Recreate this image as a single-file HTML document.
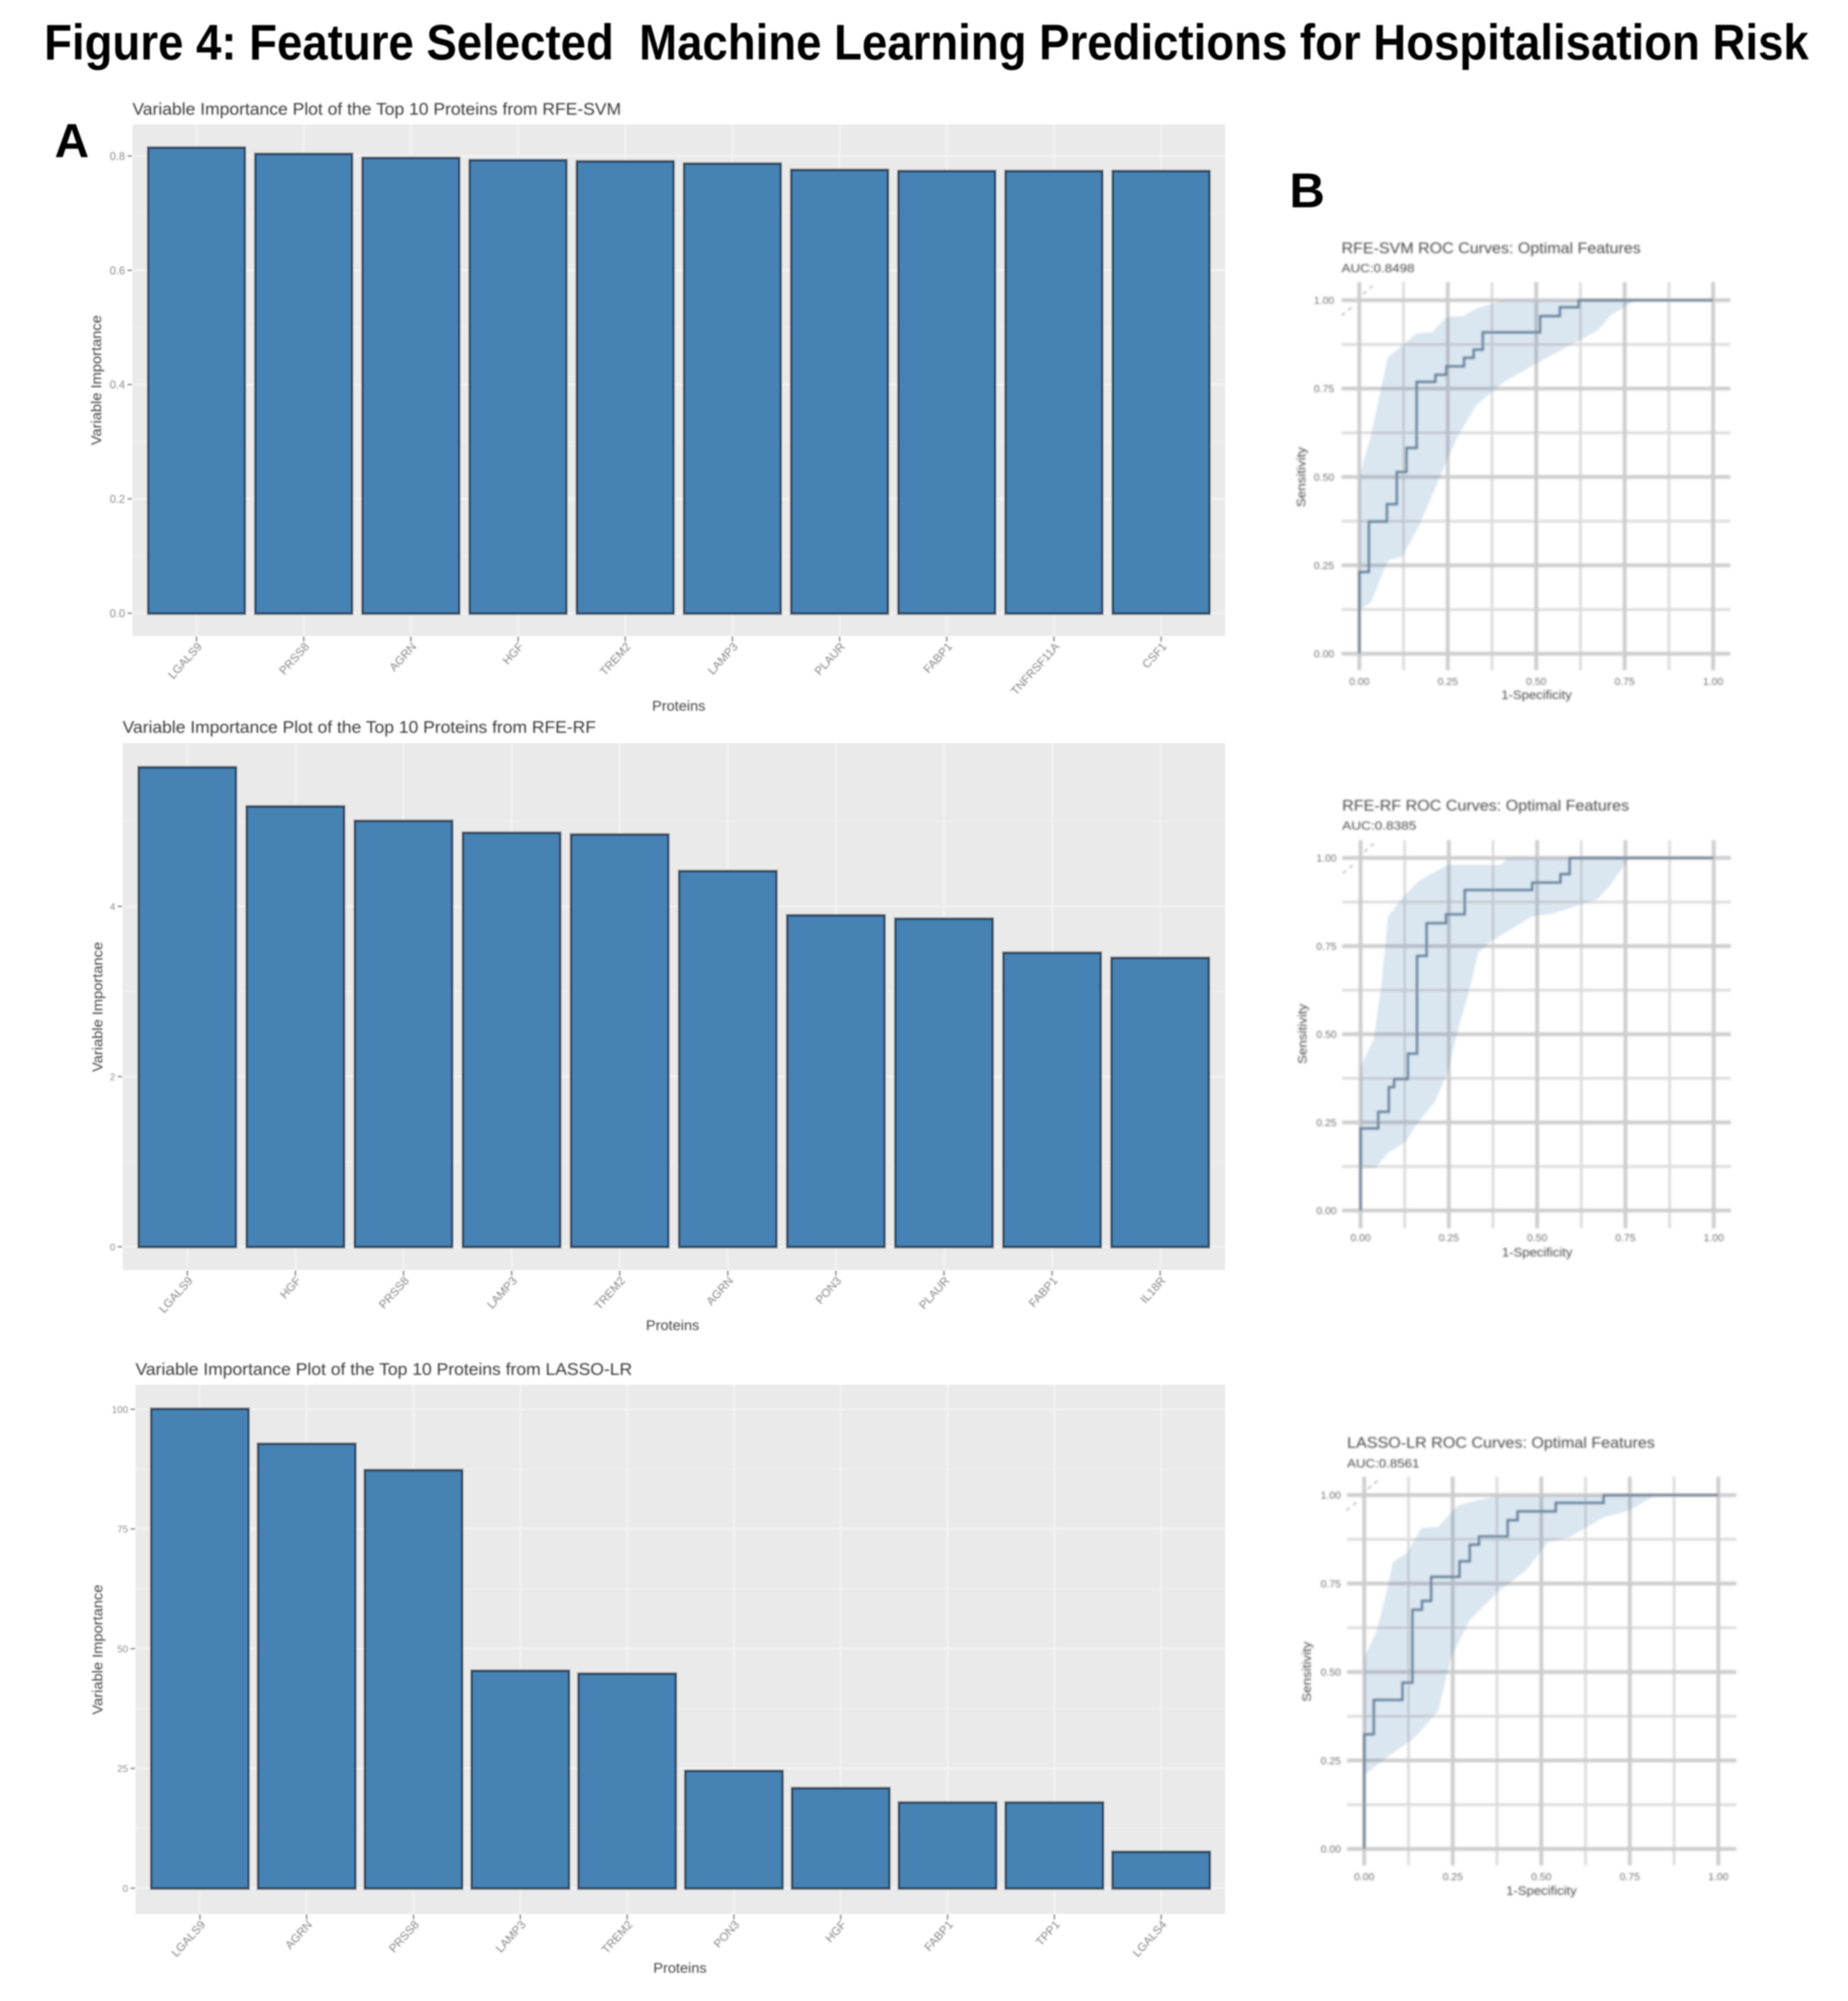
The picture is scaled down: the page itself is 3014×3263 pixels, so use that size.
<!DOCTYPE html>
<html lang="en">
<head>
<meta charset="utf-8">
<title>Figure 4: Feature Selected Machine Learning Predictions for Hospitalisation Risk</title>
<style>
html,body{margin:0;padding:0;background:#fff;}
svg{display:block;font-family:"Liberation Sans",sans-serif;}
</style>
</head>
<body>
<svg id="figure" xmlns="http://www.w3.org/2000/svg" width="3014" height="3263" viewBox="0 0 3014 3263">
  <defs>
    <filter id="blur-title" filterUnits="userSpaceOnUse" x="0" y="0" width="3014" height="3263"><feGaussianBlur stdDeviation="1.1"/></filter>
    <filter id="blur-bars" filterUnits="userSpaceOnUse" x="0" y="0" width="3014" height="3263"><feGaussianBlur stdDeviation="1"/></filter>
    <filter id="blur-text" filterUnits="userSpaceOnUse" x="0" y="0" width="3014" height="3263"><feGaussianBlur stdDeviation="1.2"/></filter>
    <filter id="blur-roc" filterUnits="userSpaceOnUse" x="0" y="0" width="3014" height="3263"><feGaussianBlur stdDeviation="1.8"/></filter>
    <filter id="blur-roc-text" filterUnits="userSpaceOnUse" x="0" y="0" width="3014" height="3263"><feGaussianBlur stdDeviation="1.6"/></filter>
  </defs>
  <rect x="0" y="0" width="3014" height="3263" fill="#ffffff"/>

  <g filter="url(#blur-title)">
    <text x="72" y="97" font-size="82" font-weight="700" fill="#000" textLength="2878" lengthAdjust="spacingAndGlyphs" xml:space="preserve" style="white-space:pre">Figure 4: Feature Selected  Machine Learning Predictions for Hospitalisation Risk</text>
    <text x="89" y="256" font-size="78" font-weight="700" fill="#000">A</text>
    <text x="2103" y="338" font-size="80" font-weight="700" fill="#000">B</text>
  </g>

  <g id="chart-a1"></g>
  <g id="chart-a2"></g>
  <g id="chart-a3"></g>
  <g id="chart-b1"></g>
  <g id="chart-b2"></g>
  <g id="chart-b3"></g>

  <g filter="url(#blur-text)">
    <text x="216" y="187" font-size="28" fill="#3a3a3a" textLength="797" lengthAdjust="spacingAndGlyphs">Variable Importance Plot of the Top 10 Proteins from RFE-SVM</text>
    <text x="200" y="1195" font-size="28" fill="#3a3a3a" textLength="772" lengthAdjust="spacingAndGlyphs">Variable Importance Plot of the Top 10 Proteins from RFE-RF</text>
    <text x="221" y="2242" font-size="28" fill="#3a3a3a" textLength="810" lengthAdjust="spacingAndGlyphs">Variable Importance Plot of the Top 10 Proteins from LASSO-LR</text>

    <text transform="translate(165 620) rotate(-90)" text-anchor="middle" font-size="23" fill="#444" textLength="212" lengthAdjust="spacingAndGlyphs">Variable Importance</text>
    <text transform="translate(167 1642) rotate(-90)" text-anchor="middle" font-size="23" fill="#444" textLength="212" lengthAdjust="spacingAndGlyphs">Variable Importance</text>
    <text transform="translate(167 2690) rotate(-90)" text-anchor="middle" font-size="23" fill="#444" textLength="212" lengthAdjust="spacingAndGlyphs">Variable Importance</text>

    <text x="1107" y="1159" text-anchor="middle" font-size="23" fill="#444" textLength="87" lengthAdjust="spacingAndGlyphs">Proteins</text>
    <text x="1097" y="2169" text-anchor="middle" font-size="23" fill="#444" textLength="87" lengthAdjust="spacingAndGlyphs">Proteins</text>
    <text x="1109" y="3217" text-anchor="middle" font-size="23" fill="#444" textLength="87" lengthAdjust="spacingAndGlyphs">Proteins</text>
  </g>

  <g filter="url(#blur-roc-text)">
    <text x="2188" y="413" font-size="25" fill="#4a4a4a" textLength="488" lengthAdjust="spacingAndGlyphs">RFE-SVM ROC Curves: Optimal Features</text>
    <text x="2188" y="444" font-size="19" fill="#4a4a4a" textLength="119" lengthAdjust="spacingAndGlyphs">AUC:0.8498</text>
    <text x="2506" y="1140" text-anchor="middle" font-size="20" fill="#4a4a4a" textLength="115" lengthAdjust="spacingAndGlyphs">1-Specificity</text>
    <text transform="translate(2129 778) rotate(-90)" text-anchor="middle" font-size="20" fill="#4a4a4a" textLength="98" lengthAdjust="spacingAndGlyphs">Sensitivity</text>

    <text x="2189" y="1322" font-size="25" fill="#4a4a4a" textLength="468" lengthAdjust="spacingAndGlyphs">RFE-RF ROC Curves: Optimal Features</text>
    <text x="2189" y="1353" font-size="19" fill="#4a4a4a" textLength="121" lengthAdjust="spacingAndGlyphs">AUC:0.8385</text>
    <text x="2507" y="2049" text-anchor="middle" font-size="20" fill="#4a4a4a" textLength="115" lengthAdjust="spacingAndGlyphs">1-Specificity</text>
    <text transform="translate(2131 1686) rotate(-90)" text-anchor="middle" font-size="20" fill="#4a4a4a" textLength="98" lengthAdjust="spacingAndGlyphs">Sensitivity</text>

    <text x="2197" y="2361" font-size="25" fill="#4a4a4a" textLength="502" lengthAdjust="spacingAndGlyphs">LASSO-LR ROC Curves: Optimal Features</text>
    <text x="2197" y="2393" font-size="19" fill="#4a4a4a" textLength="118" lengthAdjust="spacingAndGlyphs">AUC:0.8561</text>
    <text x="2514" y="3090" text-anchor="middle" font-size="20" fill="#4a4a4a" textLength="115" lengthAdjust="spacingAndGlyphs">1-Specificity</text>
    <text transform="translate(2138 2726) rotate(-90)" text-anchor="middle" font-size="20" fill="#4a4a4a" textLength="98" lengthAdjust="spacingAndGlyphs">Sensitivity</text>
  </g>
</svg>

<script>
/* ---------- Panel A: variable importance data ---------- */
const a1Categories = ["LGALS9","PRSS8","AGRN","HGF","TREM2","LAMP3","PLAUR","FABP1","TNFRSF11A","CSF1"];
const a1Values = [0.814,0.803,0.796,0.792,0.790,0.786,0.775,0.773,0.773,0.773];
const a1Ticks = [0,0.2,0.4,0.6,0.8];
const a1TickLabels = ["0.0","0.2","0.4","0.6","0.8"];

const a2Categories = ["LGALS9","HGF","PRSS8","LAMP3","TREM2","AGRN","PON3","PLAUR","FABP1","IL18R"];
const a2Values = [5.63,5.17,5.00,4.86,4.84,4.41,3.89,3.85,3.45,3.39];
const a2Ticks = [0,2,4];
const a2TickLabels = ["0","2","4"];

const a3Categories = ["LGALS9","AGRN","PRSS8","LAMP3","TREM2","PON3","HGF","FABP1","TPP1","LGALS4"];
const a3Values = [100,92.7,87.2,45.3,44.7,24.4,20.8,17.8,17.8,7.5];
const a3Ticks = [0,25,50,75,100];
const a3TickLabels = ["0","25","50","75","100"];

/* ---------- Panel B: ROC data ---------- */
const rocTicks = [0,0.25,0.5,0.75,1];
const rocMinorTicks = [0.125,0.375,0.625,0.875];
const rocTickLabels = ["0.00","0.25","0.50","0.75","1.00"];

const b1Fpr = [0,0.027,0.078,0.106,0.133,0.162,0.215,0.246,0.296,0.323,0.349,0.511,0.567,0.62,1];
const b1Tpr = [0.231,0.374,0.423,0.514,0.582,0.769,0.789,0.813,0.837,0.860,0.909,0.955,0.980,1,1];
const b1UpperFpr = [0,0.034,0.060,0.080,0.126,0.162,0.206,0.246,0.294,0.330,0.400,0.781,1];
const b1UpperTpr = [0.499,0.621,0.743,0.837,0.876,0.906,0.909,0.952,0.955,0.976,0.998,1,1];
const b1LowerFpr = [0,0.034,0.064,0.082,0.122,0.171,0.223,0.276,0.330,0.409,0.507,0.622,0.675,0.710,0.781,1];
const b1LowerTpr = [0.122,0.147,0.224,0.265,0.275,0.367,0.489,0.611,0.703,0.769,0.825,0.886,0.916,0.957,1,1];

const b2Fpr = [0,0.05,0.08,0.095,0.134,0.16,0.187,0.242,0.295,0.486,0.566,0.592,1];
const b2Tpr = [0.233,0.28,0.35,0.373,0.445,0.722,0.815,0.84,0.909,0.93,0.954,1,1];
const b2UpperFpr = [0,0.038,0.060,0.078,0.122,0.167,0.247,0.398,0.416,0.761,1];
const b2UpperTpr = [0.408,0.488,0.648,0.834,0.891,0.936,0.980,0.980,1,1,1];
const b2LowerFpr = [0,0.042,0.078,0.128,0.158,0.211,0.246,0.281,0.307,0.333,0.369,0.485,0.547,0.671,0.707,0.761,1];
const b2LowerTpr = [0.120,0.120,0.164,0.195,0.244,0.310,0.390,0.532,0.621,0.732,0.763,0.834,0.843,0.883,0.923,1,1];

const b3Fpr = [0,0.027,0.108,0.136,0.163,0.189,0.269,0.298,0.324,0.405,0.433,0.541,0.676,1];
const b3Tpr = [0.324,0.421,0.47,0.676,0.701,0.769,0.813,0.86,0.883,0.929,0.954,0.978,1,1];
const b3UpperFpr = [0,0.033,0.059,0.081,0.121,0.161,0.209,0.262,0.289,0.368,0.823,1];
const b3UpperTpr = [0.541,0.611,0.708,0.810,0.837,0.907,0.910,0.969,0.978,0.996,1,1];
const b3LowerFpr = [0,0.068,0.139,0.209,0.245,0.298,0.377,0.457,0.519,0.580,0.678,0.748,0.823,1];
const b3LowerTpr = [0.209,0.262,0.311,0.390,0.541,0.647,0.726,0.788,0.867,0.881,0.938,0.956,1,1];

const SVG_NS = "http://www.w3.org/2000/svg";
function mk(tag, props, parent) {
  const node = document.createElementNS(SVG_NS, tag);
  Object.keys(props).forEach(function (k) { node.setAttribute(k, props[k]); });
  parent.appendChild(node);
  return node;
}

function drawBarChart(host, categories, values, ticks, tickLabels, L) {
  const yScale = function (v) { return L.y0 - v * L.unit; };
  const xScale = function (i) { return L.c0 + i * L.pitch; };
  let el;

  const plot = mk("g", {filter: "url(#blur-bars)"}, host);
  
  

  el = mk("rect", {x: L.left, y: L.top, width: L.right - L.left, height: L.bottom - L.top, fill: "#eaeaea"}, plot);
  
  

  const step = ticks[1] - ticks[0];
  ticks.forEach(function (t) {
    const minorY = yScale(t + step / 2);
    if (minorY > L.top) {
      el = mk("line", {x1: L.left, x2: L.right, y1: minorY, y2: minorY, stroke: "#eeeeee", "stroke-width": 2}, plot);
      
      
    }
    el = mk("line", {x1: L.left, x2: L.right, y1: yScale(t), y2: yScale(t), stroke: "#f3f3f3", "stroke-width": 3}, plot);
    
    
  });
  categories.forEach(function (c, i) {
    el = mk("line", {x1: xScale(i), x2: xScale(i), y1: L.top, y2: L.bottom, stroke: "#f3f3f3", "stroke-width": 3}, plot);
    
    
  });

  values.forEach(function (v, i) {
    const bx = xScale(i) - L.barW / 2;
    const by = yScale(v);
    const bh = L.y0 - by;
    el = mk("rect", {x: bx - 2.5, y: by - 3, width: L.barW + 5, height: bh + 6, fill: "#8a8a8a"}, plot);
    
    
    el = mk("rect", {x: bx, y: by, width: L.barW, height: bh, fill: "#4682b4", stroke: "#1f3d5c", "stroke-width": 3}, plot);
    
    
  });

  const axes = mk("g", {filter: "url(#blur-text)"}, host);
  
  

  ticks.forEach(function (t, i) {
    el = mk("line", {x1: L.left - 8, x2: L.left - 1, y1: yScale(t), y2: yScale(t), stroke: "#777", "stroke-width": 2}, axes);
    
    
    el = mk("text", {x: L.left - 12, y: yScale(t) + L.tickFont * 0.36, "text-anchor": "end", "font-size": L.tickFont, fill: "#8a8a8a"}, axes);
    
    
    el.textContent = tickLabels[i];
  });
  categories.forEach(function (c, i) {
    const cx = xScale(i);
    el = mk("line", {x1: cx, x2: cx, y1: L.bottom + 1, y2: L.bottom + 9, stroke: "#777", "stroke-width": 2}, axes);
    
    
    el = mk("text", {transform: "translate(" + (cx + 10) + " " + (L.bottom + 18) + ") rotate(-48)", "text-anchor": "end", "font-size": 19, fill: "#858585"}, axes);
    
    
    el.textContent = c;
  });
}

function drawRocChart(host, fpr, tpr, upFpr, upTpr, loFpr, loTpr, L) {
  const xScale = function (v) { return L.x0 + v * (L.x1 - L.x0); };
  const yScale = function (v) { return L.y0 - v * (L.y0 - L.y1); };
  let el;

  const plot = mk("g", {filter: "url(#blur-roc)"}, host);
  
  

  rocMinorTicks.forEach(function (t) {
    el = mk("line", {x1: L.left, x2: L.right, y1: yScale(t), y2: yScale(t), stroke: "#dcdcdc", "stroke-width": 4.5}, plot);
    
    
    el = mk("line", {x1: xScale(t), x2: xScale(t), y1: L.top, y2: L.bottom, stroke: "#dcdcdc", "stroke-width": 4.5}, plot);
    
    
  });
  rocTicks.forEach(function (t) {
    el = mk("line", {x1: L.left, x2: L.right, y1: yScale(t), y2: yScale(t), stroke: "#cccccc", "stroke-width": 6}, plot);
    
    
    el = mk("line", {x1: xScale(t), x2: xScale(t), y1: L.top, y2: L.bottom, stroke: "#cccccc", "stroke-width": 6}, plot);
    
    
  });

  let d = "";
  upFpr.forEach(function (x, i) { d += (i ? "L" : "M") + xScale(x) + " " + yScale(upTpr[i]) + " "; });
  for (let i = loFpr.length - 1; i >= 0; i--) { d += "L" + xScale(loFpr[i]) + " " + yScale(loTpr[i]) + " "; }
  el = mk("path", {d: d + "Z", fill: "#4682b4", "fill-opacity": 0.2}, plot);
  
  

  let c = "M" + xScale(0) + " " + yScale(0) + " ";
  fpr.forEach(function (x, i) {
    c += "L" + xScale(x) + " " + yScale(i === 0 ? 0 : tpr[i - 1]) + " ";
    c += "L" + xScale(x) + " " + yScale(tpr[i]) + " ";
  });
  el = mk("path", {d: c, fill: "none", stroke: "#4f6f8a", "stroke-opacity": 0.9, "stroke-width": 3.6}, plot);
  
  

  el = mk("line", {x1: L.x0 - 29, y1: L.y1 + 25, x2: L.x0 - 9, y2: L.y1 + 9, stroke: "#a8a8a8", "stroke-width": 2, "stroke-dasharray": "7 7"}, plot);
  
  
  el = mk("line", {x1: L.x0 + 6, y1: L.y1 - 10, x2: L.x0 + 27, y2: L.y1 - 28, stroke: "#a8a8a8", "stroke-width": 2, "stroke-dasharray": "7 7"}, plot);
  
  

  const axes = mk("g", {filter: "url(#blur-roc-text)"}, host);
  
  
  rocTicks.forEach(function (t, i) {
    el = mk("text", {x: L.yLabelX, y: yScale(t) + 6, "text-anchor": "end", "font-size": 17, fill: "#707070"}, axes);
    
    
    el.textContent = rocTickLabels[i];
    el = mk("text", {x: xScale(t), y: L.xLabelY + 6, "text-anchor": "middle", "font-size": 17, fill: "#707070"}, axes);
    
    
    el.textContent = rocTickLabels[i];
  });
}

const byId = function (id) { return document.getElementById(id); };

drawBarChart(byId("chart-a1"), a1Categories, a1Values, a1Ticks, a1TickLabels,
  {left: 216, right: 1998, top: 203, bottom: 1037, y0: 1000, unit: 932, c0: 320.5, pitch: 174.8, barW: 157, tickFont: 18});
drawBarChart(byId("chart-a2"), a2Categories, a2Values, a2Ticks, a2TickLabels,
  {left: 200, right: 1998, top: 1212, bottom: 2071, y0: 2033, unit: 138.75, c0: 305.5, pitch: 176.3, barW: 158, tickFont: 16});
drawBarChart(byId("chart-a3"), a3Categories, a3Values, a3Ticks, a3TickLabels,
  {left: 221, right: 1998, top: 2258, bottom: 3121, y0: 3079, unit: 7.81, c0: 326, pitch: 174.2, barW: 158, tickFont: 16});

drawRocChart(byId("chart-b1"), b1Fpr, b1Tpr, b1UpperFpr, b1UpperTpr, b1LowerFpr, b1LowerTpr,
  {x0: 2217, x1: 2794, y0: 1066, y1: 489.5, left: 2188, right: 2822, top: 460, bottom: 1093, yLabelX: 2176, xLabelY: 1111});
drawRocChart(byId("chart-b2"), b2Fpr, b2Tpr, b2UpperFpr, b2UpperTpr, b2LowerFpr, b2LowerTpr,
  {x0: 2219, x1: 2795, y0: 1974, y1: 1399, left: 2189, right: 2823, top: 1370, bottom: 2003, yLabelX: 2180, xLabelY: 2018});
drawRocChart(byId("chart-b3"), b3Fpr, b3Tpr, b3UpperFpr, b3UpperTpr, b3LowerFpr, b3LowerTpr,
  {x0: 2225, x1: 2802.5, y0: 3015, y1: 2438, left: 2197, right: 2832, top: 2408, bottom: 3042, yLabelX: 2187, xLabelY: 3060});
</script>
</body>
</html>
